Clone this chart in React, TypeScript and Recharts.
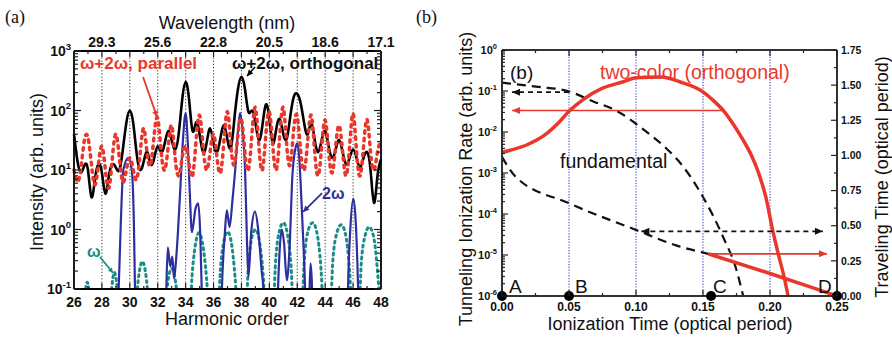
import React from "react";
import { ComposedChart, Line, Scatter, XAxis, YAxis, ReferenceLine } from "recharts";

// ---------- panel (a): harmonic spectra ----------
const harmonics = [
  26, 26.25, 26.5, 26.75, 27, 27.25, 27.5, 27.75, 28, 28.25, 28.5, 28.75, 29, 29.25, 29.5, 29.75,
  30, 30.25, 30.5, 30.75, 31, 31.25, 31.5, 31.75, 32, 32.25, 32.5, 32.75, 33, 33.25, 33.5, 33.75,
  34, 34.25, 34.5, 34.75, 35, 35.25, 35.5, 35.75, 36, 36.25, 36.5, 36.75, 37, 37.25, 37.5, 37.75,
  38, 38.25, 38.5, 38.75, 39, 39.25, 39.5, 39.75, 40, 40.25, 40.5, 40.75, 41, 41.25, 41.5, 41.75,
  42, 42.25, 42.5, 42.75, 43, 43.25, 43.5, 43.75, 44, 44.25, 44.5, 44.75, 45, 45.25, 45.5, 45.75,
  46, 46.25, 46.5, 46.75, 47, 47.25, 47.5, 47.75, 48,
];

// ω+2ω orthogonal (black solid)
const orthogonal = [
  40, 14, 9, 12, 10, 3.5, 7, 12.5, 9, 4, 8, 12.5, 11, 10, 22, 62,
  100, 60, 18, 10, 14, 20, 12.5, 16, 25, 20, 28, 45, 32, 22, 40, 150,
  300, 150, 45, 63, 40, 20, 28, 50, 28, 20, 35, 56, 32, 24, 75, 230,
  370, 230, 95, 100, 63, 32, 56, 126, 71, 28, 50, 71, 40, 34, 80, 170,
  190, 130, 60, 40, 63, 32, 20, 32, 45, 25, 16, 22, 32, 20, 12.5, 16,
  22, 16, 11, 16, 20, 10, 2.8, 8, 15,
];

// ω+2ω parallel (red dotted)
const parallel = [
  10, 6.3, 11, 32, 35, 12.5, 5.6, 12.5, 25, 10, 5, 16, 40, 16, 6.3, 10,
  16, 10, 7, 20, 50, 18, 12.5, 40, 74, 20, 10, 25, 56, 16, 8, 16,
  25, 12.5, 8, 32, 83, 25, 10, 20, 40, 16, 9, 32, 95, 25, 12.5, 40,
  71, 20, 10, 40, 112, 25, 10, 40, 95, 25, 10, 40, 112, 25, 12.5, 50,
  79, 20, 10, 32, 83, 20, 8, 25, 69, 20, 9, 25, 56, 20, 8, 25,
  89, 20, 8, 25, 71, 20, 10, 20, 32,
];

// 2ω only (blue solid): [harmonic, intensity]
const twoOmega: [number, number][] = [
  [26, 0.01], [29.1, 0.01], [29.2, 0.1], [29.35, 1.2], [29.53, 10], [29.9, 16], [30.14, 10], [30.3, 1.0],
  [30.37, 0.1], [30.45, 0.01], [32.55, 0.01], [32.62, 0.1], [32.72, 0.5], [32.9, 0.24], [33.05, 0.35],
  [33.17, 0.15], [33.35, 0.4], [33.6, 4], [33.8, 30], [34.0, 90], [34.15, 30], [34.3, 4], [34.45, 0.9],
  [34.7, 2.2], [34.9, 2.75], [35.05, 0.8], [35.15, 0.1], [35.3, 0.01], [36.5, 0.01], [36.6, 0.1],
  [36.8, 0.8], [36.95, 2.1], [37.15, 1.1], [37.35, 3], [37.55, 10], [37.75, 45], [37.9, 90], [38.1, 40],
  [38.26, 10], [38.4, 0.6], [38.5, 0.16], [38.7, 0.9], [38.97, 2], [39.2, 1.0], [39.45, 0.2], [39.57, 0.1],
  [39.7, 0.01], [40.5, 0.01], [40.62, 0.1], [40.75, 0.5], [40.9, 1.0], [41.05, 0.6], [41.25, 0.14],
  [41.45, 0.5], [41.65, 8], [41.85, 22], [42.0, 28], [42.15, 15], [42.3, 3], [42.45, 0.5], [42.56, 0.1],
  [42.65, 0.01], [42.8, 0.01], [42.88, 0.1], [42.95, 0.27], [43.05, 0.12], [43.12, 0.01], [45.55, 0.01],
  [45.65, 0.14], [45.8, 1.0], [46.02, 3.3], [46.2, 1.2], [46.35, 0.12], [46.45, 0.01], [48, 0.01],
];

// ω only (teal dotted)
const omega: [number, number][] = [
  [26.65, 0.02], [26.8, 0.08], [26.95, 0.13], [27.1, 0.08], [27.25, 0.02],
  [28.5, 0.02], [28.7, 0.1], [28.9, 0.19], [29.1, 0.1], [29.3, 0.02],
  [30.3, 0.02], [30.6, 0.14], [30.9, 0.29], [31.2, 0.14], [31.5, 0.02],
  [32.4, 0.02], [32.7, 0.12], [33.0, 0.22], [33.3, 0.12], [33.6, 0.02],
  [34.2, 0.02], [34.5, 0.22], [34.75, 0.65], [34.95, 0.88], [35.2, 0.6], [35.5, 0.15], [35.75, 0.02],
  [36.25, 0.02], [36.5, 0.22], [36.78, 0.7], [37.0, 0.92], [37.25, 0.65], [37.55, 0.15], [37.8, 0.02],
  [38.25, 0.02], [38.5, 0.25], [38.78, 0.8], [39.0, 1.0], [39.25, 0.7], [39.55, 0.18], [39.8, 0.02],
  [40.2, 0.02], [40.45, 0.3], [40.75, 1.0], [41.0, 1.3], [41.25, 0.95], [41.55, 0.25], [41.8, 0.02],
  [42.25, 0.02], [42.5, 0.3], [42.8, 1.0], [43.1, 1.3], [43.4, 0.9], [43.7, 0.22], [43.95, 0.02],
  [44.3, 0.02], [44.55, 0.3], [44.85, 0.9], [45.15, 1.2], [45.45, 0.85], [45.75, 0.2], [46.0, 0.02],
  [46.35, 0.02], [46.6, 0.3], [46.9, 0.85], [47.15, 1.1], [47.45, 0.8], [47.75, 0.2], [48.0, 0.03],
];

const noteParallel: [number, number][] = [[30.95, 366], [31.95, 78]];
const noteOrthogonal: [number, number][] = [[38.97, 538], [38.4, 380]];
const noteTwoOmega: [number, number][] = [[43.78, 4.1], [42.42, 1.97]];
const noteOmega: [number, number][] = [[27.86, 0.345], [28.8, 0.186]];

const aHarmonicTicks = [26, 27, 28, 29, 30, 31, 32, 33, 34, 35, 36, 37, 38, 39, 40, 41, 42, 43, 44, 45, 46, 47, 48];
const aGridLines = [28, 30, 32, 34, 36, 38, 40, 42, 44, 46];
const wavelengthAt = [28, 32, 36, 40, 44, 48];
const wavelengthLabels = ["29.3", "25.6", "22.8", "20.5", "18.6", "17.1"];
const aDecades = [0.1, 1, 10, 100, 1000];
const aLogTicks = [...aDecades, ...[2, 3, 4, 5, 6, 7, 8, 9].flatMap((m) => [0.1, 1, 10, 100].map((d) => m * d))];

// ---------- panel (b): ionization rate / traveling time ----------
const twoColorRate: [number, number][] = [
  [0, 0.0032], [0.02, 0.0051], [0.032, 0.0085], [0.042, 0.0166], [0.05, 0.032], [0.06, 0.06],
  [0.075, 0.117], [0.09, 0.166], [0.1, 0.21], [0.119, 0.22], [0.133, 0.166], [0.15, 0.095],
  [0.158, 0.0575], [0.166, 0.031], [0.173, 0.0148], [0.18, 0.0063], [0.186, 0.00275],
  [0.1915, 0.001], [0.197, 0.00025], [0.2015, 0.000048], [0.206, 0.0000112],
  [0.211, 0.0000025], [0.2135, 0.000001], [0.215, 0.0000006],
];
const fundamentalRate: [number, number][] = [
  [0, 0.16], [0.027, 0.126], [0.049, 0.1], [0.069, 0.054], [0.084, 0.035], [0.104, 0.0126],
  [0.124, 0.0036], [0.131, 0.0021], [0.15, 0.00026], [0.165, 0.0000275], [0.175, 0.0000043],
  [0.18, 0.000001], [0.183, 0.0000004],
];
const fundamentalTravel: [number, number][] = [
  [0, 0.99], [0.01, 0.85], [0.05, 0.66], [0.1, 0.47], [0.13, 0.36], [0.154, 0.3],
];
const twoColorTravel: [number, number][] = [[0.154, 0.3], [0.2, 0.16], [0.23, 0.065], [0.25, 0.0]];

const arrowRedUpper: [number, number][] = [[0.165, 1.32], [0.0075, 1.32]];
const arrowRedLower: [number, number][] = [[0.154, 0.3], [0.2425, 0.3]];
const arrowBlackUpper: [number, number][] = [[0.05, 1.45], [0.0075, 1.45]];
const arrowBlackLower: [number, number][] = [[0.104, 0.46], [0.2395, 0.46]];

const ionPoints = [0, 0.05, 0.156, 0.25];
const bGridLines = [0.05, 0.1, 0.15, 0.2];
const bTimeTicksX = [0, 0.025, 0.05, 0.075, 0.1, 0.125, 0.15, 0.175, 0.2, 0.225, 0.25];
const bTravelTicks = [0, 0.125, 0.25, 0.375, 0.5, 0.625, 0.75, 0.875, 1, 1.125, 1.25, 1.375, 1.5, 1.625, 1.75];
const bDecades = [0.000001, 0.00001, 0.0001, 0.001, 0.01, 0.1, 1];
const bLogTicks = [
  ...bDecades,
  ...[2, 3, 4, 5, 6, 7, 8, 9].flatMap((m) => [0.000001, 0.00001, 0.0001, 0.001, 0.01, 0.1].map((d) => m * d)),
];

const FONT = "'Liberation Sans', Arial, Helvetica, sans-serif";
const SERIF = "'Liberation Serif', 'Times New Roman', serif";
const RED = "#e9372c";
const BLUE = "#2d2f9e";
const TEAL = "#1b8c86";
const GRIDBLUE = "#3e52d6";

const pts = (p: [number, number][]) => p.map(([x, y]) => ({ x, y }));
const isDecade = (v: number) => {
  const e = Math.log10(v);
  return Math.abs(e - Math.round(e)) < 1e-6;
};
const isMultiple = (v: number, step: number) => Math.abs(v / step - Math.round(v / step)) < 1e-6;

function Pow10({ x, y, v, size }: { x: number; y: number; v: number; size: number }) {
  const e = Math.round(Math.log10(v));
  return (
    <text x={x} y={y} textAnchor="end" fontFamily={FONT} fontWeight="bold" fontSize={size} fill="#111">
      <tspan>10</tspan>
      <tspan dy={-size * 0.45} fontSize={size * 0.68}>
        {e}
      </tspan>
    </text>
  );
}

const logTick =
  (side: "left" | "right", size: number, labels: boolean, gap: number, majorLen: number, minorLen: number) =>
  (p: any) => {
    const { x, y, payload } = p;
    const v = payload.value;
    const big = isDecade(v);
    const dir = side === "left" ? 1 : -1;
    return (
      <g>
        <line x1={x} x2={x + dir * (big ? majorLen : minorLen)} y1={y} y2={y} stroke="#222" strokeWidth={1.2} />
        {labels && big && <Pow10 x={x - gap} y={y + size * 0.36} v={v} size={size} />}
      </g>
    );
  };

const linTick =
  (
    side: "top" | "bottom" | "left" | "right",
    major: (v: number) => boolean,
    label: (v: number) => string | null,
    size: number,
    offset: number,
    majorLen: number,
    minorLen: number
  ) =>
  (p: any) => {
    const { x, y, payload } = p;
    const v = payload.value;
    const len = major(v) ? majorLen : minorLen;
    const txt = label(v);
    let line;
    let text = null;
    if (side === "top" || side === "bottom") {
      const dir = side === "bottom" ? -1 : 1;
      line = <line x1={x} x2={x} y1={y} y2={y + dir * len} stroke="#222" strokeWidth={1.2} />;
      if (txt !== null)
        text = (
          <text x={x} y={y + offset} textAnchor="middle" fontFamily={FONT} fontWeight="bold" fontSize={size} fill="#111">
            {txt}
          </text>
        );
    } else {
      const dir = side === "left" ? 1 : -1;
      line = <line x1={x} x2={x + dir * len} y1={y} y2={y} stroke="#222" strokeWidth={1.2} />;
      if (txt !== null)
        text = (
          <text x={x + offset} y={y + size * 0.36} textAnchor="start" fontFamily={FONT} fontWeight="bold" fontSize={size} fill="#111">
            {txt}
          </text>
        );
    }
    return (
      <g>
        {line}
        {text}
      </g>
    );
  };

function headDot(color: string, both: boolean, len = 8, half = 3.5) {
  let sx = 0;
  let sy = 0;
  const tri = (x0: number, y0: number, x1: number, y1: number) => {
    const a = Math.atan2(y1 - y0, x1 - x0);
    const c = Math.cos(a);
    const s = Math.sin(a);
    const bx = x1 - len * c;
    const by = y1 - len * s;
    return `${x1},${y1} ${bx - half * s},${by + half * c} ${bx + half * s},${by - half * c}`;
  };
  return (p: any) => {
    if (p.index === 0) {
      sx = p.cx;
      sy = p.cy;
      return <g key="h0" />;
    }
    return (
      <g key="h1">
        <polygon points={tri(sx, sy, p.cx, p.cy)} fill={color} />
        {both && <polygon points={tri(p.cx, p.cy, sx, sy)} fill={color} />}
      </g>
    );
  };
}

function arrowLine(
  key: string,
  data: [number, number][],
  color: string,
  width: number,
  dash: string | undefined,
  both: boolean,
  xId: string,
  yId: string,
  len = 8,
  half = 3.5
) {
  return (
    <Line
      key={key}
      data={pts(data)}
      dataKey="y"
      xAxisId={xId}
      yAxisId={yId}
      type="linear"
      stroke={color}
      strokeWidth={width}
      strokeDasharray={dash}
      dot={headDot(color, both, len, half)}
      activeDot={false}
      isAnimationActive={false}
    />
  );
}

function PanelA() {
  const frame = { stroke: "#000", strokeWidth: 1.8 };
  return (
    <ComposedChart width={445} height={337} margin={{ top: 31, right: 54, bottom: 18, left: 14 }}>
      <XAxis
        xAxisId="b"
        type="number"
        dataKey="x"
        domain={[26, 48]}
        ticks={aHarmonicTicks}
        interval={0}
        height={30}
        tickSize={0}
        tickMargin={0}
        tickLine={false}
        axisLine={frame}
        tick={linTick("bottom", (v) => v % 2 === 0, (v) => (v % 2 === 0 ? String(v) : null), 14, 18, 6, 3)}
      />
      <XAxis
        xAxisId="t"
        orientation="top"
        type="number"
        dataKey="x"
        domain={[26, 48]}
        allowDataOverflow
        ticks={aHarmonicTicks}
        interval={0}
        height={20}
        tickSize={0}
        tickMargin={0}
        tickLine={false}
        axisLine={frame}
        tick={linTick(
          "top",
          (v) => v % 2 === 0,
          (v) => {
            const i = wavelengthAt.indexOf(v);
            return i >= 0 ? wavelengthLabels[i] : null;
          },
          14,
          -4,
          6,
          3
        )}
      />
      <YAxis
        yAxisId="l"
        dataKey="y"
        scale="log"
        type="number"
        domain={[0.1, 1000]}
        allowDataOverflow
        ticks={aLogTicks}
        interval={0}
        width={60}
        tickSize={0}
        tickMargin={0}
        tickLine={false}
        axisLine={frame}
        tick={logTick("left", 14, true, 3, 7, 4)}
      />
      <YAxis
        yAxisId="r"
        orientation="right"
        dataKey="y"
        scale="log"
        type="number"
        domain={[0.1, 1000]}
        allowDataOverflow
        ticks={aLogTicks}
        interval={0}
        width={10}
        tickSize={0}
        tickMargin={0}
        tickLine={false}
        axisLine={frame}
        tick={logTick("right", 14, false, 0, 7, 4)}
      />
      {aGridLines.map((h) => (
        <ReferenceLine key={h} x={h} xAxisId="b" yAxisId="l" stroke="#333" strokeWidth={1} strokeDasharray="1.2 2" />
      ))}
      <Line
        data={pts(omega)}
        dataKey="y"
        xAxisId="b"
        yAxisId="l"
        type="monotone"
        stroke={TEAL}
        strokeWidth={3}
        strokeDasharray="2 4"
        strokeLinecap="round"
        dot={false}
        activeDot={false}
        isAnimationActive={false}
      />
      <Line
        data={pts(twoOmega)}
        dataKey="y"
        xAxisId="b"
        yAxisId="l"
        type="monotone"
        stroke={BLUE}
        strokeWidth={2.2}
        dot={false}
        activeDot={false}
        isAnimationActive={false}
      />
      <Line
        data={harmonics.map((x, i) => ({ x, y: orthogonal[i] }))}
        dataKey="y"
        xAxisId="b"
        yAxisId="l"
        type="natural"
        stroke="#000"
        strokeWidth={2.6}
        dot={false}
        activeDot={false}
        isAnimationActive={false}
      />
      <Line
        data={harmonics.map((x, i) => ({ x, y: parallel[i] }))}
        dataKey="y"
        xAxisId="b"
        yAxisId="l"
        type="natural"
        stroke={RED}
        strokeWidth={3.5}
        strokeDasharray="2.5 5"
        strokeLinecap="round"
        dot={false}
        activeDot={false}
        isAnimationActive={false}
      />
      {arrowLine("np", noteParallel, RED, 1.8, undefined, false, "b", "l", 6, 3)}
      {arrowLine("no", noteOrthogonal, "#000", 1.5, undefined, false, "b", "l", 6, 3)}
      {arrowLine("n2", noteTwoOmega, BLUE, 1.8, undefined, false, "b", "l", 6, 3)}
      {arrowLine("n1", noteOmega, TEAL, 1.8, undefined, false, "b", "l", 5, 2.5)}
    </ComposedChart>
  );
}

function PanelB() {
  const frame = { stroke: "#333", strokeWidth: 2 };
  return (
    <ComposedChart width={447} height={337} margin={{ top: 40, right: 15, bottom: 11, left: 12 }}>
      <XAxis
        xAxisId="b"
        type="number"
        dataKey="x"
        domain={[0, 0.25]}
        ticks={bTimeTicksX}
        interval={0}
        height={30}
        tickSize={0}
        tickMargin={0}
        tickLine={false}
        axisLine={frame}
        tick={linTick("bottom", (v) => isMultiple(v, 0.05), (v) => (isMultiple(v, 0.05) ? v.toFixed(2) : null), 12, 15, 6, 3)}
      />
      <XAxis
        xAxisId="t"
        orientation="top"
        type="number"
        dataKey="x"
        domain={[0, 0.25]}
        allowDataOverflow
        ticks={bTimeTicksX}
        interval={0}
        height={10}
        tickSize={0}
        tickMargin={0}
        tickLine={false}
        axisLine={frame}
        tick={linTick("top", (v) => isMultiple(v, 0.05), () => null, 12, 0, 6, 3)}
      />
      <YAxis
        yAxisId="rate"
        dataKey="y"
        scale="log"
        type="number"
        domain={[0.000001, 1]}
        allowDataOverflow
        ticks={bLogTicks}
        interval={0}
        width={45}
        tickSize={0}
        tickMargin={0}
        tickLine={false}
        axisLine={frame}
        tick={logTick("left", 11, true, 5, 6, 3)}
      />
      <YAxis
        yAxisId="time"
        orientation="right"
        dataKey="y"
        type="number"
        domain={[0, 1.75]}
        ticks={bTravelTicks}
        interval={0}
        width={40}
        tickSize={0}
        tickMargin={0}
        tickLine={false}
        axisLine={frame}
        tick={linTick("right", (v) => isMultiple(v, 0.25), (v) => (isMultiple(v, 0.25) ? v.toFixed(2) : null), 10.5, 4, 6, 3)}
      />
      {bGridLines.map((t) => (
        <ReferenceLine key={t} x={t} xAxisId="b" yAxisId="time" stroke={GRIDBLUE} strokeWidth={1.2} strokeDasharray="1.2 1.6" />
      ))}
      <Line
        data={pts(fundamentalRate)}
        dataKey="y"
        xAxisId="b"
        yAxisId="rate"
        type="monotone"
        stroke="#111"
        strokeWidth={2.2}
        strokeDasharray="9 6"
        dot={false}
        activeDot={false}
        isAnimationActive={false}
      />
      <Line
        data={pts(fundamentalTravel)}
        dataKey="y"
        xAxisId="b"
        yAxisId="time"
        type="monotone"
        stroke="#111"
        strokeWidth={2.2}
        strokeDasharray="9 6"
        dot={false}
        activeDot={false}
        isAnimationActive={false}
      />
      <Line
        data={pts(twoColorRate)}
        dataKey="y"
        xAxisId="b"
        yAxisId="rate"
        type="monotone"
        stroke={RED}
        strokeWidth={3.5}
        dot={false}
        activeDot={false}
        isAnimationActive={false}
      />
      <Line
        data={pts(twoColorTravel)}
        dataKey="y"
        xAxisId="b"
        yAxisId="time"
        type="monotone"
        stroke={RED}
        strokeWidth={3.5}
        dot={false}
        activeDot={false}
        isAnimationActive={false}
      />
      {arrowLine("ru", arrowRedUpper, RED, 1.6, undefined, false, "b", "time")}
      {arrowLine("rl", arrowRedLower, RED, 1.6, undefined, false, "b", "time")}
      {arrowLine("bu", arrowBlackUpper, "#111", 1.8, "5 4", false, "b", "time")}
      {arrowLine("bl", arrowBlackLower, "#111", 1.8, "5 4", true, "b", "time")}
      <Scatter
        data={ionPoints.map((x) => ({ x, y: 0 }))}
        xAxisId="b"
        yAxisId="time"
        isAnimationActive={false}
        shape={(p: any) => <circle cx={p.cx} cy={p.cy} r={5} fill="#000" />}
      />
    </ComposedChart>
  );
}

export default function App() {
  const t = { fontFamily: FONT, fill: "#111" };
  return (
    <div style={{ position: "absolute", left: 0, top: 0, width: 892, height: 337, background: "#fff" }}>
      <div style={{ position: "absolute", left: 0, top: 0 }}>
        <PanelA />
      </div>
      <div style={{ position: "absolute", left: 445, top: 0 }}>
        <PanelB />
      </div>
      <svg width={892} height={337} style={{ position: "absolute", left: 0, top: 0, pointerEvents: "none" }}>
        <text x={5} y={23} fontFamily={SERIF} fontSize={18} fill="#111">(a)</text>
        <text x={416} y={23} fontFamily={SERIF} fontSize={18} fill="#111">(b)</text>

        <text x={227} y={29} textAnchor="middle" fontSize={18} {...t}>Wavelength (nm)</text>
        <text x={227} y={325} textAnchor="middle" fontSize={18} {...t}>Harmonic order</text>
        <text x={37} y={172} textAnchor="middle" dominantBaseline="central" fontSize={18} transform="rotate(-90 37 172)" {...t}>
          Intensity (arb. units)
        </text>
        <text x={80} y={69} fontSize={17} fontWeight="bold" fontFamily={FONT} fill={RED}>ω+2ω, parallel</text>
        <text x={232} y={69} fontSize={17} fontWeight="bold" {...t}>ω+2ω, orthogonal</text>
        <text x={322} y={199} fontSize={16} fontWeight="bold" fontFamily={FONT} fill={BLUE}>2ω</text>
        <text x={87} y={257} fontSize={16} fontWeight="bold" fontFamily={FONT} fill={TEAL}>ω</text>

        <text x={510} y={79} fontSize={19} {...t}>(b)</text>
        <text x={600} y={79} fontSize={19.5} fontFamily={FONT} fill={RED}>two-color (orthogonal)</text>
        <text x={560} y={168} fontSize={19.5} {...t}>fundamental</text>
        <text x={509} y={293} fontSize={19} {...t}>A</text>
        <text x={575} y={293} fontSize={19} {...t}>B</text>
        <text x={713} y={293} fontSize={19} {...t}>C</text>
        <text x={818} y={293} fontSize={19} {...t}>D</text>
        <text x={670} y={330} textAnchor="middle" fontSize={18} {...t}>Ionization Time (optical period)</text>
        <text x={466} y={179} textAnchor="middle" dominantBaseline="central" fontSize={18} transform="rotate(-90 466 179)" {...t}>
          Tunneling Ionization Rate (arb. units)
        </text>
        <text x={882} y={177} textAnchor="middle" dominantBaseline="central" fontSize={18} transform="rotate(-90 882 177)" {...t}>
          Traveling Time (optical period)
        </text>
      </svg>
    </div>
  );
}
